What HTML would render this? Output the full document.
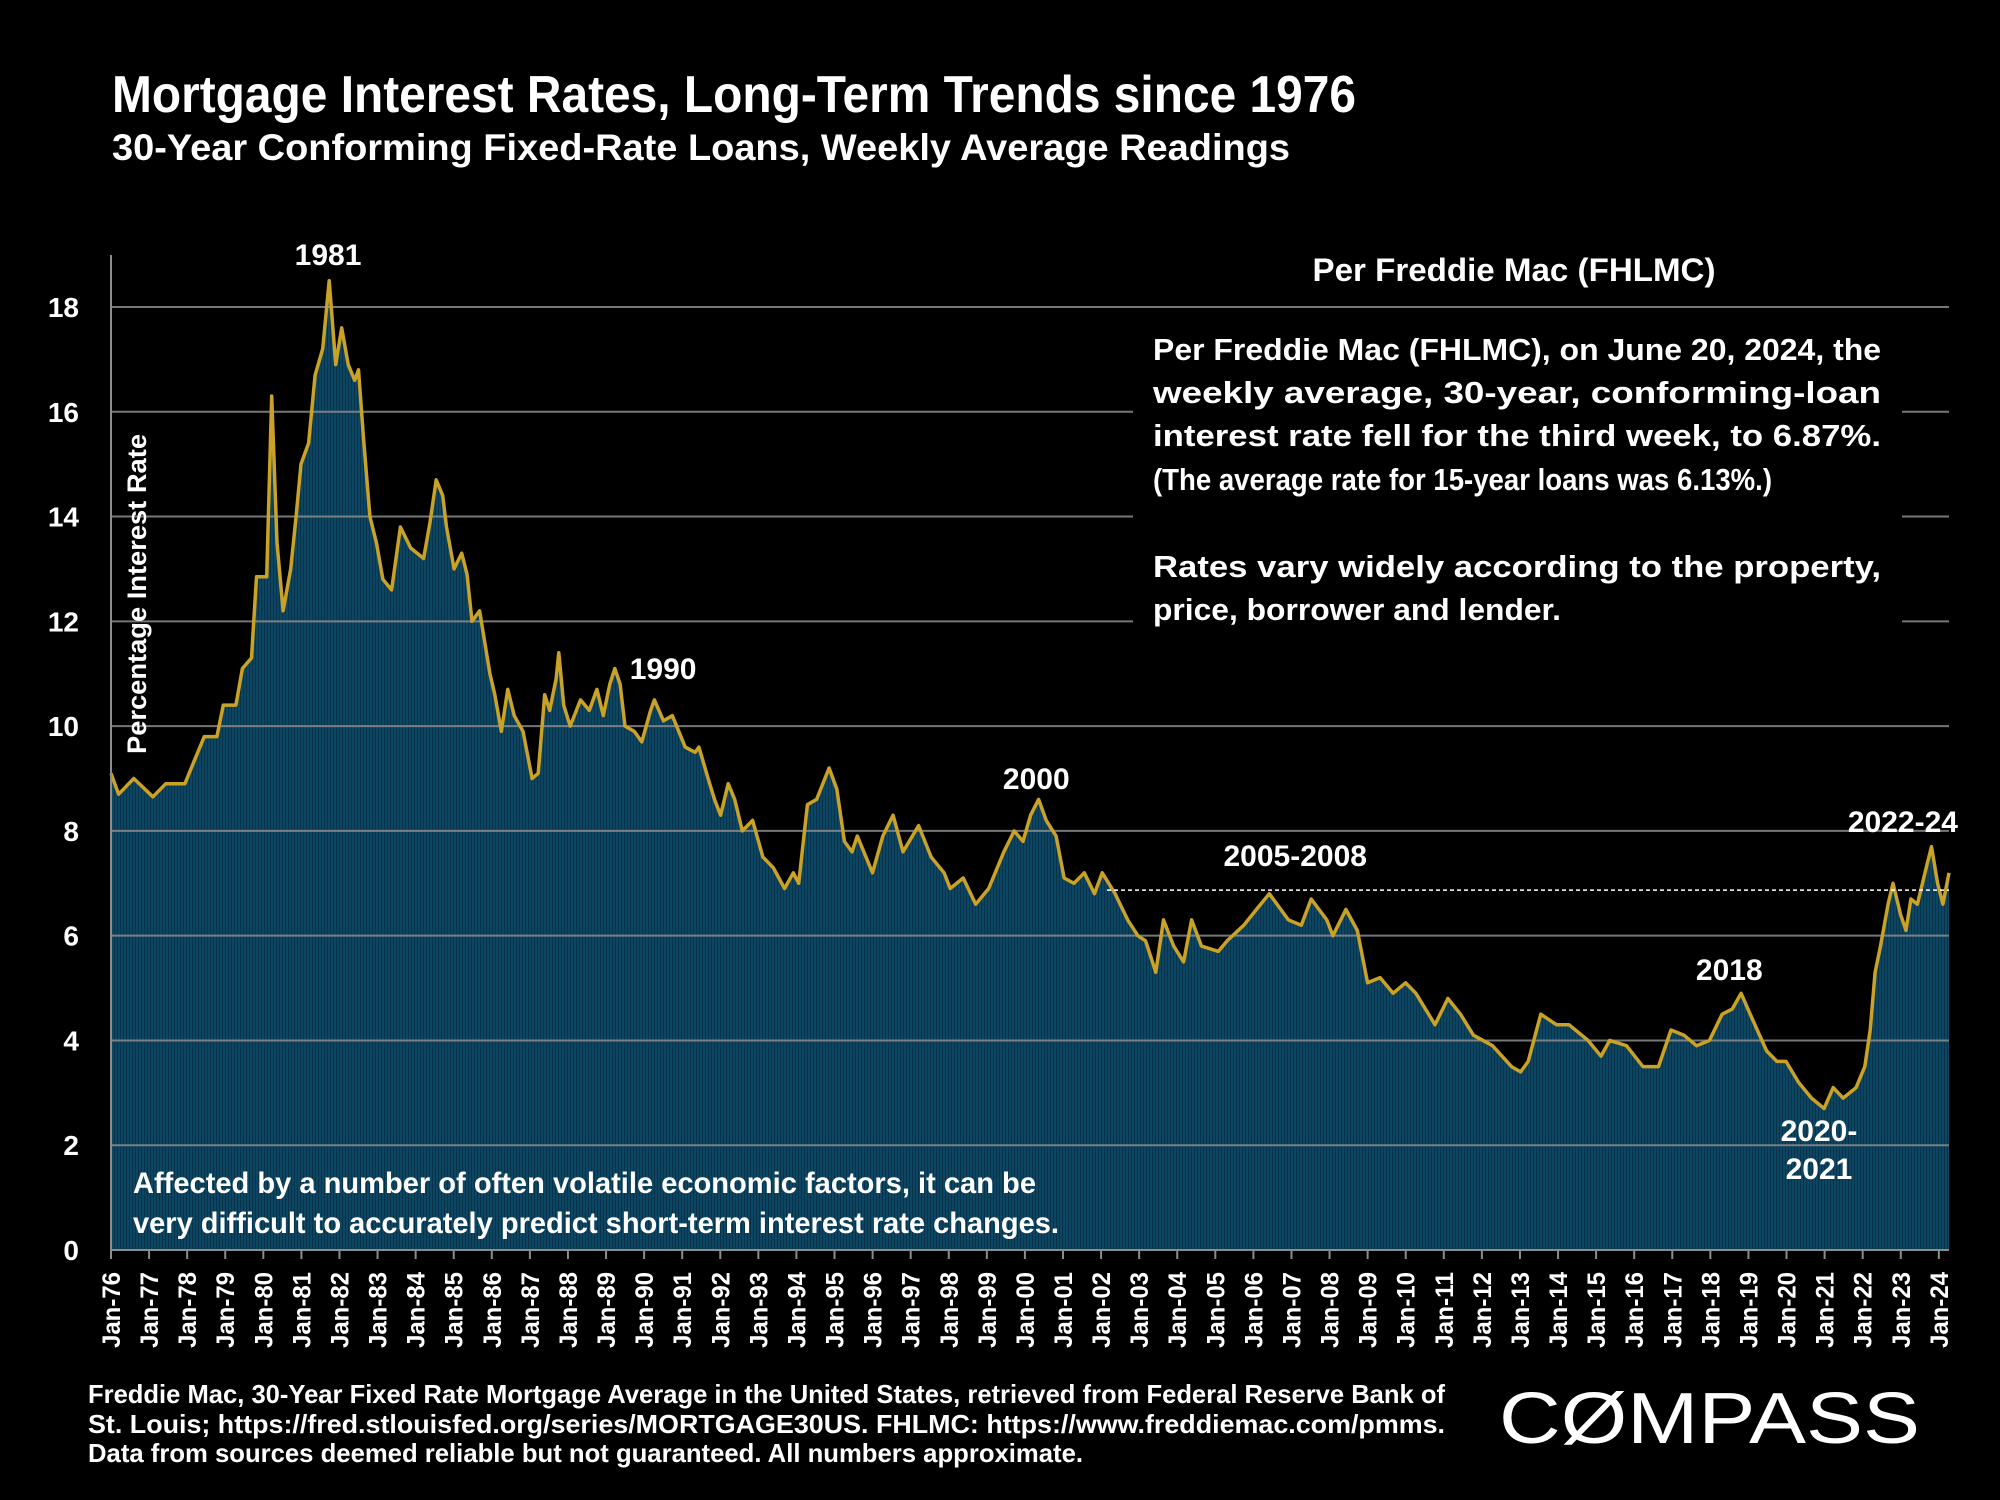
<!DOCTYPE html>
<html><head><meta charset="utf-8">
<style>
html,body{margin:0;padding:0;background:#000;}
svg{display:block;}
text{font-family:"Liberation Sans",sans-serif;fill:#fff;font-weight:bold;}
text.normal{font-weight:normal;}
</style></head>
<body>
<svg id="chart" width="2000" height="1500" viewBox="0 0 2000 1500" xmlns="http://www.w3.org/2000/svg">
<defs>
<pattern id="stripes" patternUnits="userSpaceOnUse" width="3" height="10">
<rect width="3" height="10" fill="#0d4663"/>
<rect width="1" height="10" fill="#08324a"/>
</pattern>
</defs>
<rect width="2000" height="1500" fill="#000"/>
<text x="112" y="112" font-size="52" textLength="1244" lengthAdjust="spacingAndGlyphs">Mortgage Interest Rates, Long-Term Trends since 1976</text>
<text x="112" y="160" font-size="37" textLength="1178" lengthAdjust="spacingAndGlyphs">30-Year Conforming Fixed-Rate Loans, Weekly Average Readings</text>
<g id="plot"></g>
</svg>
<script>
const years=[0,.2,.6,1.1,1.44,1.94,2.11,2.45,2.78,2.95,3.28,3.45,3.69,3.82,4.09,4.22,4.36,4.52,4.72,4.86,4.99,5.19,5.36,5.56,5.73,5.9,6.06,6.23,6.4,6.5,6.63,6.8,6.97,7.14,7.37,7.6,7.87,8.21,8.38,8.54,8.71,8.81,9.01,9.21,9.35,9.48,9.68,9.95,10.08,10.25,10.42,10.59,10.82,11.06,11.22,11.39,11.52,11.69,11.76,11.89,12.06,12.33,12.56,12.76,12.93,13.1,13.23,13.37,13.5,13.74,13.94,14.17,14.27,14.51,14.74,15.08,15.34,15.44,15.68,15.85,16.01,16.21,16.38,16.58,16.85,17.12,17.39,17.69,17.92,18.06,18.29,18.53,18.86,19.06,19.26,19.46,19.6,20.0,20.27,20.54,20.8,21.21,21.54,21.88,22.04,22.38,22.71,23.05,23.45,23.72,23.95,24.15,24.36,24.56,24.82,25.03,25.29,25.56,25.83,26.03,26.37,26.7,26.97,27.17,27.44,27.64,27.91,28.17,28.38,28.64,29.08,29.31,29.75,30.08,30.42,30.92,31.26,31.52,31.93,32.09,32.43,32.73,33.0,33.33,33.67,34.0,34.27,34.77,35.11,35.44,35.78,36.28,36.78,37.02,37.22,37.55,37.96,38.29,38.79,39.13,39.36,39.8,40.23,40.64,40.97,41.31,41.64,41.98,42.31,42.58,42.81,43.05,43.48,43.75,43.99,44.32,44.66,44.99,45.23,45.49,45.83,46.06,46.2,46.33,46.47,46.67,46.8,47.0,47.14,47.27,47.44,47.64,47.81,47.97,48.11,48.27];
const rates=[9.1,8.7,9.0,8.65,8.9,8.9,9.2,9.8,9.8,10.4,10.4,11.1,11.3,12.85,12.85,16.3,13.5,12.2,13.0,14.0,15.0,15.4,16.7,17.2,18.5,16.9,17.6,16.9,16.6,16.8,15.5,14.0,13.5,12.8,12.6,13.8,13.4,13.2,13.9,14.7,14.4,13.8,13.0,13.3,12.9,12.0,12.2,11.0,10.6,9.9,10.7,10.2,9.9,9.0,9.1,10.6,10.3,10.9,11.4,10.4,10.0,10.5,10.3,10.7,10.2,10.8,11.1,10.8,10.0,9.9,9.7,10.3,10.5,10.1,10.2,9.6,9.5,9.6,9.0,8.6,8.3,8.9,8.6,8.0,8.2,7.5,7.3,6.9,7.2,7.0,8.5,8.6,9.2,8.8,7.8,7.6,7.9,7.2,7.9,8.3,7.6,8.1,7.5,7.2,6.9,7.1,6.6,6.9,7.6,8.0,7.8,8.3,8.6,8.2,7.9,7.1,7.0,7.2,6.8,7.2,6.8,6.3,6.0,5.9,5.3,6.3,5.8,5.5,6.3,5.8,5.7,5.9,6.2,6.5,6.8,6.3,6.2,6.7,6.3,6.0,6.5,6.1,5.1,5.2,4.9,5.1,4.9,4.3,4.8,4.5,4.1,3.9,3.5,3.4,3.6,4.5,4.3,4.3,4.0,3.7,4.0,3.9,3.5,3.5,4.2,4.1,3.9,4.0,4.5,4.6,4.9,4.5,3.8,3.6,3.6,3.2,2.9,2.7,3.1,2.9,3.1,3.5,4.2,5.3,5.8,6.6,7.0,6.4,6.1,6.7,6.6,7.2,7.7,7.0,6.6,7.2];
const yTicks=[0,2,4,6,8,10,12,14,16,18];
const xTickLabels=[];for(let y=76;y<=124;y++){xTickLabels.push('Jan-'+String(y%100).padStart(2,'0'));}
const latestRate=6.87;
const annotations=[["1981",5.7,18.8],["1990",14.5,10.9],["2000",24.3,8.8],["2005-2008",31.1,7.33],["2018",42.5,5.15],["2022-24",47.06,7.98]];

const NS="http://www.w3.org/2000/svg";
const X0=111,XEND=1949,SPAN=48.27,Y0=1250,YPU=52.39;
const xs=t=>X0+t*(XEND-X0)/SPAN;
const ys=v=>Y0-v*YPU;
const plot=document.getElementById('plot');
function el(tag,attrs,parent){const e=document.createElementNS(NS,tag);for(const k in attrs)e.setAttribute(k,attrs[k]);(parent||plot).appendChild(e);return e;}

let d='M'+xs(years[0])+','+Y0;
years.forEach((t,i)=>{d+=' L'+xs(t).toFixed(1)+','+ys(rates[i]).toFixed(1);});
d+=' L'+xs(years[years.length-1])+','+Y0+' Z';
const area=el('path',{d:d,fill:'url(#stripes)'});



yTicks.forEach(v=>{
  if(v===0)return;
  const y=ys(v);
  const hidden=(y>325&&y<640);
  if(hidden){
    const g1=el('line',{x1:X0,x2:1133,y1:y,y2:y,stroke:'#8c8c8c','stroke-width':2,'stroke-opacity':0.85});
    
    
    const g2=el('line',{x1:1902,x2:XEND,y1:y,y2:y,stroke:'#8c8c8c','stroke-width':2,'stroke-opacity':0.85});
    
    
  } else {
    const g=el('line',{x1:X0,x2:XEND,y1:y,y2:y,stroke:'#8c8c8c','stroke-width':2,'stroke-opacity':0.85});
    
    
  }
  const lab=el('text',{x:79,y:y+10,'font-size':28,'text-anchor':'end'});
  lab.textContent=v;
  
  
});
const zl=el('text',{x:79,y:Y0+10,'font-size':28,'text-anchor':'end'});
zl.textContent='0';



let ld='';
years.forEach((t,i)=>{ld+=(i?' L':'M')+xs(t).toFixed(1)+','+ys(rates[i]).toFixed(1);});
const line=el('path',{d:ld,fill:'none',stroke:'#c9a227','stroke-width':3.5,'stroke-linejoin':'round'});



const dl=el('line',{x1:1107,x2:XEND,y1:ys(latestRate),y2:ys(latestRate),stroke:'#fff','stroke-width':1.5,'stroke-dasharray':'4,3'});



const ya=el('line',{x1:X0,x2:X0,y1:255,y2:Y0,stroke:'#8c8c8c','stroke-width':2});


const xa=el('line',{x1:X0,x2:XEND,y1:Y0,y2:Y0,stroke:'#8c8c8c','stroke-width':2});


xTickLabels.forEach((s,i)=>{
  const x=X0+i*38.08;
  const tk=el('line',{x1:x,x2:x,y1:Y0,y2:Y0+9,stroke:'#8c8c8c','stroke-width':2});
  
  
  const t=el('text',{x:0,y:0,'font-size':25,'text-anchor':'end',transform:'translate('+(x+9)+',1272) rotate(-90)',textLength:76,lengthAdjust:'spacingAndGlyphs'});
  t.textContent=s;
  
  
});

const yt=el('text',{x:0,y:0,'font-size':27,'text-anchor':'middle',transform:'translate(146,594) rotate(-90)',textLength:320,lengthAdjust:'spacingAndGlyphs'});
yt.textContent='Percentage Interest  Rate';



annotations.forEach(a=>{
  const t=el('text',{x:xs(a[1]),y:ys(a[2]),'font-size':30,'text-anchor':'middle'});
  t.textContent=a[0];
  
  
});
const a1=el('text',{x:1819,y:1141,'font-size':30,'text-anchor':'middle'});
a1.textContent='2020-';


const a2=el('text',{x:1819,y:1179,'font-size':30,'text-anchor':'middle'});
a2.textContent='2021';



const hd=el('text',{x:1514,y:281,'font-size':32,'text-anchor':'middle',textLength:403,lengthAdjust:'spacingAndGlyphs'});
hd.textContent='Per Freddie Mac (FHLMC)';


const lines=[["Per Freddie Mac (FHLMC), on June 20, 2024, the",360,728],["weekly   average,   30-year,   conforming-loan",403,728],["interest  rate  fell  for  the  third  week,  to  6.87%.",446,728],["(The average rate for 15-year loans was 6.13%.)",490,619],["Rates  vary  widely  according  to  the  property,",577,728],["price, borrower and lender.",620,408]];
lines.forEach(l=>{
  const t=el('text',{x:1153,y:l[1],'font-size':31,textLength:l[2],lengthAdjust:'spacingAndGlyphs','xml:space':'preserve'});
  t.textContent=l[0];
  
  
});

const n1=el('text',{x:133,y:1193,'font-size':30,textLength:903,lengthAdjust:'spacingAndGlyphs'});
n1.textContent='Affected by a number of often volatile economic factors, it can be';


const n2=el('text',{x:133,y:1233,'font-size':30,textLength:926,lengthAdjust:'spacingAndGlyphs'});
n2.textContent='very difficult to accurately predict short-term interest rate changes.';



const fl=[["Freddie Mac, 30-Year Fixed Rate Mortgage Average in the United States, retrieved from Federal Reserve Bank of",1403,1357],["St.   Louis;   https://fred.stlouisfed.org/series/MORTGAGE30US.   FHLMC:   https://www.freddiemac.com/pmms.",1433,1357],["Data from sources deemed reliable but not guaranteed. All numbers approximate.",1462,995]];
fl.forEach(l=>{
  const t=el('text',{x:88,y:l[1],'font-size':26,textLength:l[2],lengthAdjust:'spacingAndGlyphs','xml:space':'preserve'});
  t.textContent=l[0];
  
  
});
const logo=el('text',{x:1499,y:1443,'font-size':72,'class':'normal',textLength:421,lengthAdjust:'spacingAndGlyphs'});
logo.textContent='CØMPASS';


</script>
</body></html>
